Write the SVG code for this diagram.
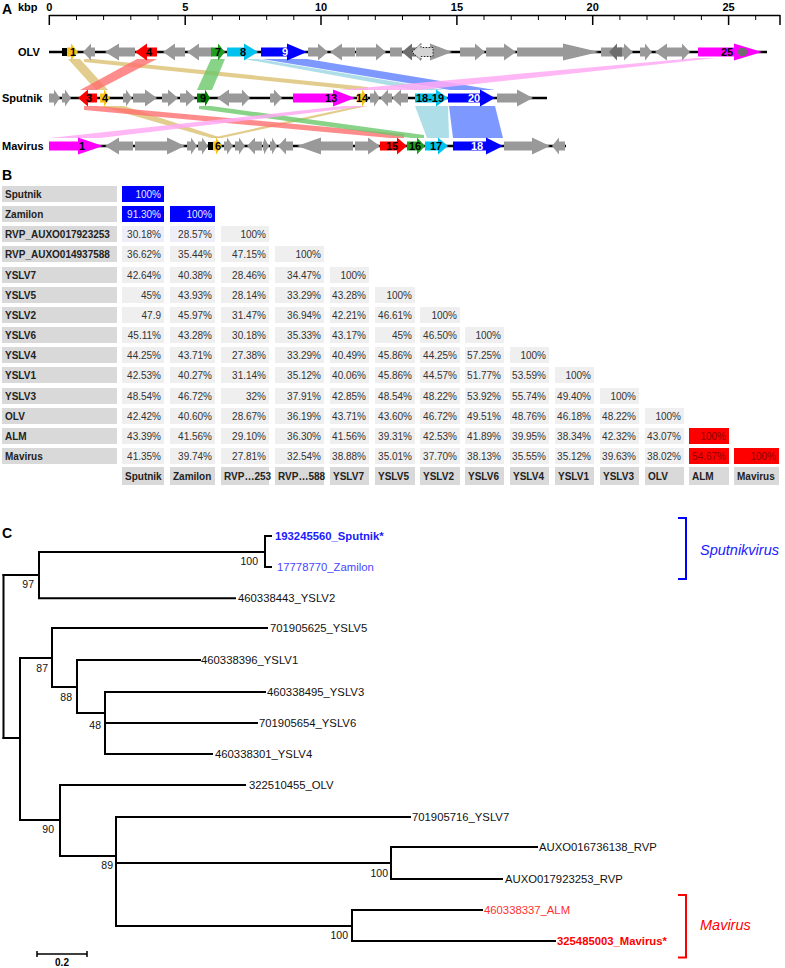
<svg xmlns="http://www.w3.org/2000/svg" width="785" height="968" viewBox="0 0 785 968">
<style>
text{font-family:"Liberation Sans",Arial,sans-serif}
.b{font-weight:bold}
.pl{font-size:14px;font-weight:bold}
.ax{font-size:11px;font-weight:bold;text-anchor:middle}
.rl{font-size:11px;font-weight:bold}
.gn{font-size:11px;font-weight:bold;text-anchor:middle}
.w{fill:#fff}
.g{fill:#999}
.dg{fill:#6e6e6e}
.y{fill:#f7c21a}
.r{fill:#ff0000}
.gr{fill:#1f9e1f}
.dgr{fill:#008000}
.c{fill:#00c2ee}
.bl{fill:#0000ff}
.m{fill:#ff00ff}
.bk{fill:#000}
.gl{stroke:#000;stroke-width:2.5}
.rib-t{fill:#dcc072;opacity:.8}
.rib-r{fill:#ff6f6f;opacity:.8}
.rib-g{fill:#6cc86c;opacity:.8}
.rib-c{fill:#a5dbe5;opacity:.9}
.rib-b{fill:#5c80ff;opacity:.8}
.rib-p{fill:#ffaaf4;opacity:.85}
.cl{fill:#efefef}
.hd{fill:#d9d9d9}
.cb{fill:#0000ff}
.cr{fill:#ff0000}
.tv{font-size:10px;text-anchor:end;fill:#333}
.tl{font-size:10px;font-weight:bold;fill:#222}
.tvb{fill:#e8e8ff}
.tvr{fill:#8b0000}
.tr{stroke:#000;stroke-width:2;fill:none;stroke-linecap:square}
.lf{font-size:11.3px;fill:#111}
.bs{font-size:10.5px;text-anchor:end;fill:#111}
.it{font-size:14.5px;font-style:italic}
</style>

<!-- Panel A -->
<text x="2" y="14" class="pl">A</text>
<text x="18" y="11" class="rl">kbp</text>
<g id="scale">
<path d="M49.3,15.5H780" stroke="#000" stroke-width="1.5"/>
<path d="M49.3,15V25M185.2,15V25M321,15V25M456.9,15V25M592.7,15V25M728.6,15V25M780,15V25" stroke="#000" stroke-width="1.5"/>
<path d="M76.5,15V20M103.6,15V20M130.8,15V20M158,15V20M212.3,15V20M239.5,15V20M266.7,15V20M293.8,15V20M348.2,15V20M375.3,15V20M402.5,15V20M429.7,15V20M484,15V20M511.2,15V20M538.4,15V20M565.5,15V20M619.9,15V20M647,15V20M674.2,15V20M701.4,15V20M755.7,15V20" stroke="#000" stroke-width="1"/>
<text x="49.3" y="11" class="ax">0</text>
<text x="185.2" y="11" class="ax">5</text>
<text x="321" y="11" class="ax">10</text>
<text x="456.9" y="11" class="ax">15</text>
<text x="592.7" y="11" class="ax">20</text>
<text x="728.6" y="11" class="ax">25</text>
</g>

<g id="ribbons">
<polygon class="rib-t" points="68,59 80,59 108,90 96,90"/>
<polygon class="rib-t" points="84,59 93,59 368,87 368,90 356,90 84,62"/>
<polygon class="rib-t" points="100,106 124,106 222,138 211,138"/>
<polygon class="rib-t" points="357,106 367,106 222,138 211,138"/>
<polygon class="rib-r" points="137,59 157,59 97,90 80,90"/>
<polygon class="rib-r" points="84,106 97,106 404,134 404,138 390,138 84,110"/>
<polygon class="rib-g" points="211,59 225,59 212,90 197,90"/>
<polygon class="rib-g" points="199,106 211,106 424,135 424,138 411,138 199,109"/>
<polygon class="rib-c" points="244,59 258,59 445,90 415,90"/>
<polygon class="rib-c" points="415,106 448,106 449,138 427,138"/>
<polygon class="rib-b" points="262,59 307,59 495,90 450,90"/>
<polygon class="rib-b" points="449,106 495,106 503,138 453,138"/>
<polygon class="rib-p" points="696,58 716,58 420,90 338,90"/>
<polygon class="rib-p" points="343,106 368,106 100,138 50,138"/>
</g>

<g id="olv" transform="translate(0,52)">
<path d="M49,0H767" class="gl"/>
<rect x="62" y="-4" width="5" height="8" class="bk"/>
<polygon class="y" points="67,-4.5 71,-4.5 71,-8.5 78,0 71,8.5 71,4.5 67,4.5"/>
<polygon class="g" points="83,0 91,-8.5 91,-4.5 95,-4.5 95,4.5 91,4.5 91,8.5"/>
<polygon class="g" points="105,0 119,-8.5 119,-4.5 135,-4.5 135,4.5 119,4.5 119,8.5"/>
<polygon class="r" points="135,0 147,-8.5 147,-4.5 157,-4.5 157,4.5 147,4.5 147,8.5"/>
<polygon class="g" points="163,0 175,-8.5 175,-4.5 185,-4.5 185,4.5 175,4.5 175,8.5"/>
<polygon class="g" points="187,0 199,-8.5 199,-4.5 212,-4.5 212,4.5 199,4.5 199,8.5"/>
<polygon class="gr" points="211,-4.5 218,-4.5 218,-8.5 225,0 218,8.5 218,4.5 211,4.5"/>
<polygon class="c" points="227,-4.5 244,-4.5 244,-8.5 258,0 244,8.5 244,4.5 227,4.5"/>
<polygon class="bl" points="261,-4.5 287,-4.5 287,-8.5 307,0 287,8.5 287,4.5 261,4.5"/>
<polygon class="g" points="308,-4.5 318,-4.5 318,-8.5 328,0 318,8.5 318,4.5 308,4.5"/>
<polygon class="g" points="330,0 342,-8.5 342,-4.5 355,-4.5 355,4.5 342,4.5 342,8.5"/>
<polygon class="g" points="356,-4.5 376,-4.5 376,-8.5 386,0 376,8.5 376,4.5 356,4.5"/>
<rect x="390" y="-4.5" width="12" height="9" class="g"/>
<polygon class="g" points="423,-4.5 430,-4.5 430,-8.5 452,0 430,8.5 430,4.5 423,4.5"/>
<polygon class="dg" points="402,0 412,-8.5 412,-4.5 418,-4.5 418,4.5 412,4.5 412,8.5"/>
<polygon fill="#d4d4d4" stroke="#000" stroke-width="0.8" stroke-dasharray="1.5,1.5" points="412,0 421,-8.5 421,-4.5 433,-4.5 433,4.5 421,4.5 421,8.5"/>
<polygon class="g" points="460,-4.5 475,-4.5 475,-8.5 485,0 475,8.5 475,4.5 460,4.5"/>
<polygon class="g" points="486,-4.5 504,-4.5 504,-8.5 516,0 504,8.5 504,4.5 486,4.5"/>
<polygon class="g" points="517,-4.5 563,-4.5 563,-8.5 599,0 563,8.5 563,4.5 517,4.5"/>
<rect x="601" y="-4.5" width="12" height="9" class="g"/>
<polygon class="g" points="618,-4.5 624,-4.5 624,-8.5 633,0 624,8.5 624,4.5 618,4.5"/>
<polygon class="dg" points="609,0 617,-8.5 617,-4.5 622,-4.5 622,4.5 617,4.5 617,8.5"/>
<polygon class="g" points="640,-4.5 645,-4.5 645,-8.5 652,0 645,8.5 645,4.5 640,4.5"/>
<polygon class="g" points="655,0 667,-8.5 667,-4.5 677,-4.5 677,4.5 667,4.5 667,8.5"/>
<polygon class="g" points="677,-4.5 682,-4.5 682,-8.5 690,0 682,8.5 682,4.5 677,4.5"/>
<polygon class="m" points="698,-4.5 734,-4.5 734,-8.5 762,0 734,8.5 734,4.5 698,4.5"/>
<polygon class="dg" points="737,0 740,-4 745,-4 748,0 745,4 740,4"/>
<text x="73" y="4" class="gn">1</text>
<text x="149" y="4" class="gn">4</text>
<text x="218" y="4" class="gn">7</text>
<text x="243" y="4" class="gn">8</text>
<text x="285" y="4" class="gn w">9</text>
<text x="727" y="4" class="gn">25</text>
</g>
<text x="18" y="56" class="rl">OLV</text>

<g id="sputnik-genome" transform="translate(0,98)">
<path d="M49,0H547" class="gl"/>
<polygon class="g" points="49,-4.5 54,-4.5 54,-8.5 60,0 54,8.5 54,4.5 49,4.5"/>
<polygon class="g" points="62,-4.5 65,-4.5 65,-8.5 71,0 65,8.5 65,4.5 62,4.5"/>
<polygon class="r" points="78,0 88,-8.5 88,-4.5 97,-4.5 97,4.5 88,4.5 88,8.5"/>
<polygon class="y" points="100,-4.5 104,-4.5 104,-8.5 110,0 104,8.5 104,4.5 100,4.5"/>
<polygon class="g" points="123,-4.5 126,-4.5 126,-8.5 132,0 126,8.5 126,4.5 123,4.5"/>
<polygon class="g" points="133,-4.5 145,-4.5 145,-8.5 157,0 145,8.5 145,4.5 133,4.5"/>
<polygon class="g" points="162,-4.5 168,-4.5 168,-8.5 178,0 168,8.5 168,4.5 162,4.5"/>
<polygon class="g" points="180,-4.5 186,-4.5 186,-8.5 195,0 186,8.5 186,4.5 180,4.5"/>
<polygon class="dgr" points="197,-4.5 205,-4.5 205,-8.5 210,0 205,8.5 205,4.5 197,4.5"/>
<polygon class="g" points="217,0 229,-8.5 229,-4.5 237,-4.5 237,4.5 229,4.5 229,8.5"/>
<polygon class="g" points="237,-4.5 242,-4.5 242,-8.5 250,0 242,8.5 242,4.5 237,4.5"/>
<polygon class="g" points="270,-4.5 274,-4.5 274,-8.5 282,0 274,8.5 274,4.5 270,4.5"/>
<polygon class="m" points="293,-4.5 333,-4.5 333,-8.5 355,0 333,8.5 333,4.5 293,4.5"/>
<polygon class="y" points="357,-4.5 362,-4.5 362,-8.5 368,0 362,8.5 362,4.5 357,4.5"/>
<polygon class="g" points="370,-4.5 374,-4.5 374,-8.5 380,0 374,8.5 374,4.5 370,4.5"/>
<polygon class="g" points="380,0 388,-8.5 388,-4.5 392,-4.5 392,4.5 388,4.5 388,8.5"/>
<polygon class="g" points="392,0 401,-8.5 401,-4.5 408,-4.5 408,4.5 401,4.5 401,8.5"/>
<polygon class="c" points="415,-4.5 436,-4.5 436,-8.5 448,0 436,8.5 436,4.5 415,4.5"/>
<polygon class="bl" points="448,-4.5 480,-4.5 480,-8.5 495,0 480,8.5 480,4.5 448,4.5"/>
<polygon class="g" points="497,-4.5 517,-4.5 517,-8.5 533,0 517,8.5 517,4.5 497,4.5"/>
<text x="89" y="4" class="gn">3</text>
<text x="105" y="4" class="gn">4</text>
<text x="203" y="4" class="gn">9</text>
<text x="331" y="4" class="gn">13</text>
<text x="362" y="4" class="gn">14</text>
<text x="430" y="4" class="gn">18-19</text>
<text x="474" y="4" class="gn w">20</text>
</g>
<text x="2" y="102" class="rl">Sputnik</text>

<g id="mavirus-genome" transform="translate(0,146)">
<path d="M49,0H566" class="gl"/>
<polygon class="m" points="49,-4.5 78,-4.5 78,-8.5 103,0 78,8.5 78,4.5 49,4.5"/>
<polygon class="g" points="105,0 119,-8.5 119,-4.5 133,-4.5 133,4.5 119,4.5 119,8.5"/>
<polygon class="g" points="135,-4.5 167,-4.5 167,-8.5 185,0 167,8.5 167,4.5 135,4.5"/>
<polygon class="g" points="187,-4.5 191,-4.5 191,-8.5 197,0 191,8.5 191,4.5 187,4.5"/>
<polygon class="g" points="198,-4.5 202,-4.5 202,-8.5 208,0 202,8.5 202,4.5 198,4.5"/>
<rect x="208" y="-4" width="5" height="8" class="bk"/>
<polygon class="y" points="213,-4.5 216,-4.5 216,-8.5 222,0 216,8.5 216,4.5 213,4.5"/>
<polygon class="g" points="224,-4.5 227,-4.5 227,-8.5 233,0 227,8.5 227,4.5 224,4.5"/>
<polygon class="g" points="235,-4.5 239,-4.5 239,-8.5 245,0 239,8.5 239,4.5 235,4.5"/>
<polygon class="g" points="247,0 255,-8.5 255,-4.5 262,-4.5 262,4.5 255,4.5 255,8.5"/>
<polygon class="g" points="263,-4.5 264,-4.5 264,-8.5 269,0 264,8.5 264,4.5 263,4.5"/>
<polygon class="g" points="270,-4.5 272,-4.5 272,-8.5 277,0 272,8.5 272,4.5 270,4.5"/>
<polygon class="g" points="278,0 286,-8.5 286,-4.5 293,-4.5 293,4.5 286,4.5 286,8.5"/>
<polygon class="g" points="297,0 321,-8.5 321,-4.5 353,-4.5 353,4.5 321,4.5 321,8.5"/>
<polygon class="g" points="355,-4.5 368,-4.5 368,-8.5 380,0 368,8.5 368,4.5 355,4.5"/>
<polygon class="r" points="380,-4.5 397,-4.5 397,-8.5 407,0 397,8.5 397,4.5 380,4.5"/>
<polygon class="gr" points="407,-4.5 417,-4.5 417,-8.5 425,0 417,8.5 417,4.5 407,4.5"/>
<polygon class="c" points="425,-4.5 438,-4.5 438,-8.5 448,0 438,8.5 438,4.5 425,4.5"/>
<polygon class="bl" points="453,-4.5 486,-4.5 486,-8.5 503,0 486,8.5 486,4.5 453,4.5"/>
<polygon class="g" points="504,-4.5 532,-4.5 532,-8.5 550,0 532,8.5 532,4.5 504,4.5"/>
<polygon class="g" points="552,0 559,-8.5 559,-4.5 565,-4.5 565,4.5 559,4.5 559,8.5"/>
<text x="82" y="4" class="gn">1</text>
<text x="218" y="4" class="gn">6</text>
<text x="392" y="4" class="gn">15</text>
<text x="415" y="4" class="gn">16</text>
<text x="436" y="4" class="gn">17</text>
<text x="477" y="4" class="gn w">18</text>
</g>
<text x="2" y="150" class="rl">Mavirus</text>

<!-- Panel B -->
<text x="2" y="180" class="pl">B</text>
<g id="table">
<g transform="translate(0,186)">
<rect x="2" y="0" width="115" height="16" class="hd"/><text x="5" y="12" class="tl">Sputnik</text>
<rect x="122" y="0" width="42" height="16" class="cb"/><text x="161" y="12" class="tv tvb">100%</text>
</g>
<g transform="translate(0,206)">
<rect x="2" y="0" width="115" height="16" class="hd"/><text x="5" y="12" class="tl">Zamilon</text>
<rect x="122" y="0" width="42" height="16" class="cb"/><text x="161" y="12" class="tv tvb">91.30%</text>
<rect x="170" y="0" width="45" height="16" class="cb"/><text x="212" y="12" class="tv tvb">100%</text>
</g>
<g transform="translate(0,226)">
<rect x="2" y="0" width="115" height="16" class="hd"/><text x="5" y="12" class="tl">RVP_AUXO017923253</text>
<rect x="122" y="0" width="42" height="16" fill="#eeeef8"/><text x="161" y="12" class="tv">30.18%</text>
<rect x="170" y="0" width="45" height="16" fill="#eeeef8"/><text x="212" y="12" class="tv">28.57%</text>
<rect x="221" y="0" width="48" height="16" class="cl"/><text x="266" y="12" class="tv">100%</text>
</g>
<g transform="translate(0,246)">
<rect x="2" y="0" width="115" height="16" class="hd"/><text x="5" y="12" class="tl">RVP_AUXO014937588</text>
<rect x="122" y="0" width="42" height="16" class="cl"/><text x="161" y="12" class="tv">36.62%</text>
<rect x="170" y="0" width="45" height="16" class="cl"/><text x="212" y="12" class="tv">35.44%</text>
<rect x="221" y="0" width="48" height="16" class="cl"/><text x="266" y="12" class="tv">47.15%</text>
<rect x="275" y="0" width="49" height="16" class="cl"/><text x="321" y="12" class="tv">100%</text>
</g>
<g transform="translate(0,267)">
<rect x="2" y="0" width="115" height="16" class="hd"/><text x="5" y="12" class="tl">YSLV7</text>
<rect x="122" y="0" width="42" height="16" class="cl"/><text x="161" y="12" class="tv">42.64%</text>
<rect x="170" y="0" width="45" height="16" class="cl"/><text x="212" y="12" class="tv">40.38%</text>
<rect x="221" y="0" width="48" height="16" class="cl"/><text x="266" y="12" class="tv">28.46%</text>
<rect x="275" y="0" width="49" height="16" class="cl"/><text x="321" y="12" class="tv">34.47%</text>
<rect x="330" y="0" width="39" height="16" class="cl"/><text x="366" y="12" class="tv">100%</text>
</g>
<g transform="translate(0,287)">
<rect x="2" y="0" width="115" height="16" class="hd"/><text x="5" y="12" class="tl">YSLV5</text>
<rect x="122" y="0" width="42" height="16" class="cl"/><text x="161" y="12" class="tv">45%</text>
<rect x="170" y="0" width="45" height="16" class="cl"/><text x="212" y="12" class="tv">43.93%</text>
<rect x="221" y="0" width="48" height="16" class="cl"/><text x="266" y="12" class="tv">28.14%</text>
<rect x="275" y="0" width="49" height="16" class="cl"/><text x="321" y="12" class="tv">33.29%</text>
<rect x="330" y="0" width="39" height="16" class="cl"/><text x="366" y="12" class="tv">43.28%</text>
<rect x="375" y="0" width="40" height="16" class="cl"/><text x="412" y="12" class="tv">100%</text>
</g>
<g transform="translate(0,307)">
<rect x="2" y="0" width="115" height="16" class="hd"/><text x="5" y="12" class="tl">YSLV2</text>
<rect x="122" y="0" width="42" height="16" class="cl"/><text x="161" y="12" class="tv">47.9</text>
<rect x="170" y="0" width="45" height="16" class="cl"/><text x="212" y="12" class="tv">45.97%</text>
<rect x="221" y="0" width="48" height="16" class="cl"/><text x="266" y="12" class="tv">31.47%</text>
<rect x="275" y="0" width="49" height="16" class="cl"/><text x="321" y="12" class="tv">36.94%</text>
<rect x="330" y="0" width="39" height="16" class="cl"/><text x="366" y="12" class="tv">42.21%</text>
<rect x="375" y="0" width="40" height="16" class="cl"/><text x="412" y="12" class="tv">46.61%</text>
<rect x="420" y="0" width="40" height="16" class="cl"/><text x="457" y="12" class="tv">100%</text>
</g>
<g transform="translate(0,327)">
<rect x="2" y="0" width="115" height="16" class="hd"/><text x="5" y="12" class="tl">YSLV6</text>
<rect x="122" y="0" width="42" height="16" class="cl"/><text x="161" y="12" class="tv">45.11%</text>
<rect x="170" y="0" width="45" height="16" class="cl"/><text x="212" y="12" class="tv">43.28%</text>
<rect x="221" y="0" width="48" height="16" class="cl"/><text x="266" y="12" class="tv">30.18%</text>
<rect x="275" y="0" width="49" height="16" class="cl"/><text x="321" y="12" class="tv">35.33%</text>
<rect x="330" y="0" width="39" height="16" class="cl"/><text x="366" y="12" class="tv">43.17%</text>
<rect x="375" y="0" width="40" height="16" class="cl"/><text x="412" y="12" class="tv">45%</text>
<rect x="420" y="0" width="40" height="16" class="cl"/><text x="457" y="12" class="tv">46.50%</text>
<rect x="465" y="0" width="39" height="16" class="cl"/><text x="501" y="12" class="tv">100%</text>
</g>
<g transform="translate(0,347)">
<rect x="2" y="0" width="115" height="16" class="hd"/><text x="5" y="12" class="tl">YSLV4</text>
<rect x="122" y="0" width="42" height="16" class="cl"/><text x="161" y="12" class="tv">44.25%</text>
<rect x="170" y="0" width="45" height="16" class="cl"/><text x="212" y="12" class="tv">43.71%</text>
<rect x="221" y="0" width="48" height="16" class="cl"/><text x="266" y="12" class="tv">27.38%</text>
<rect x="275" y="0" width="49" height="16" class="cl"/><text x="321" y="12" class="tv">33.29%</text>
<rect x="330" y="0" width="39" height="16" class="cl"/><text x="366" y="12" class="tv">40.49%</text>
<rect x="375" y="0" width="40" height="16" class="cl"/><text x="412" y="12" class="tv">45.86%</text>
<rect x="420" y="0" width="40" height="16" class="cl"/><text x="457" y="12" class="tv">44.25%</text>
<rect x="465" y="0" width="39" height="16" class="cl"/><text x="501" y="12" class="tv">57.25%</text>
<rect x="510" y="0" width="39" height="16" class="cl"/><text x="546" y="12" class="tv">100%</text>
</g>
<g transform="translate(0,367)">
<rect x="2" y="0" width="115" height="16" class="hd"/><text x="5" y="12" class="tl">YSLV1</text>
<rect x="122" y="0" width="42" height="16" class="cl"/><text x="161" y="12" class="tv">42.53%</text>
<rect x="170" y="0" width="45" height="16" class="cl"/><text x="212" y="12" class="tv">40.27%</text>
<rect x="221" y="0" width="48" height="16" class="cl"/><text x="266" y="12" class="tv">31.14%</text>
<rect x="275" y="0" width="49" height="16" class="cl"/><text x="321" y="12" class="tv">35.12%</text>
<rect x="330" y="0" width="39" height="16" class="cl"/><text x="366" y="12" class="tv">40.06%</text>
<rect x="375" y="0" width="40" height="16" class="cl"/><text x="412" y="12" class="tv">45.86%</text>
<rect x="420" y="0" width="40" height="16" class="cl"/><text x="457" y="12" class="tv">44.57%</text>
<rect x="465" y="0" width="39" height="16" class="cl"/><text x="501" y="12" class="tv">51.77%</text>
<rect x="510" y="0" width="39" height="16" class="cl"/><text x="546" y="12" class="tv">53.59%</text>
<rect x="555" y="0" width="39" height="16" class="cl"/><text x="591" y="12" class="tv">100%</text>
</g>
<g transform="translate(0,388)">
<rect x="2" y="0" width="115" height="16" class="hd"/><text x="5" y="12" class="tl">YSLV3</text>
<rect x="122" y="0" width="42" height="16" class="cl"/><text x="161" y="12" class="tv">48.54%</text>
<rect x="170" y="0" width="45" height="16" class="cl"/><text x="212" y="12" class="tv">46.72%</text>
<rect x="221" y="0" width="48" height="16" class="cl"/><text x="266" y="12" class="tv">32%</text>
<rect x="275" y="0" width="49" height="16" class="cl"/><text x="321" y="12" class="tv">37.91%</text>
<rect x="330" y="0" width="39" height="16" class="cl"/><text x="366" y="12" class="tv">42.85%</text>
<rect x="375" y="0" width="40" height="16" class="cl"/><text x="412" y="12" class="tv">48.54%</text>
<rect x="420" y="0" width="40" height="16" class="cl"/><text x="457" y="12" class="tv">48.22%</text>
<rect x="465" y="0" width="39" height="16" class="cl"/><text x="501" y="12" class="tv">53.92%</text>
<rect x="510" y="0" width="39" height="16" class="cl"/><text x="546" y="12" class="tv">55.74%</text>
<rect x="555" y="0" width="39" height="16" class="cl"/><text x="591" y="12" class="tv">49.40%</text>
<rect x="600" y="0" width="39" height="16" class="cl"/><text x="636" y="12" class="tv">100%</text>
</g>
<g transform="translate(0,408)">
<rect x="2" y="0" width="115" height="16" class="hd"/><text x="5" y="12" class="tl">OLV</text>
<rect x="122" y="0" width="42" height="16" class="cl"/><text x="161" y="12" class="tv">42.42%</text>
<rect x="170" y="0" width="45" height="16" class="cl"/><text x="212" y="12" class="tv">40.60%</text>
<rect x="221" y="0" width="48" height="16" class="cl"/><text x="266" y="12" class="tv">28.67%</text>
<rect x="275" y="0" width="49" height="16" class="cl"/><text x="321" y="12" class="tv">36.19%</text>
<rect x="330" y="0" width="39" height="16" class="cl"/><text x="366" y="12" class="tv">43.71%</text>
<rect x="375" y="0" width="40" height="16" class="cl"/><text x="412" y="12" class="tv">43.60%</text>
<rect x="420" y="0" width="40" height="16" class="cl"/><text x="457" y="12" class="tv">46.72%</text>
<rect x="465" y="0" width="39" height="16" class="cl"/><text x="501" y="12" class="tv">49.51%</text>
<rect x="510" y="0" width="39" height="16" class="cl"/><text x="546" y="12" class="tv">48.76%</text>
<rect x="555" y="0" width="39" height="16" class="cl"/><text x="591" y="12" class="tv">46.18%</text>
<rect x="600" y="0" width="39" height="16" class="cl"/><text x="636" y="12" class="tv">48.22%</text>
<rect x="645" y="0" width="39" height="16" class="cl"/><text x="681" y="12" class="tv">100%</text>
</g>
<g transform="translate(0,428)">
<rect x="2" y="0" width="115" height="16" class="hd"/><text x="5" y="12" class="tl">ALM</text>
<rect x="122" y="0" width="42" height="16" class="cl"/><text x="161" y="12" class="tv">43.39%</text>
<rect x="170" y="0" width="45" height="16" class="cl"/><text x="212" y="12" class="tv">41.56%</text>
<rect x="221" y="0" width="48" height="16" class="cl"/><text x="266" y="12" class="tv">29.10%</text>
<rect x="275" y="0" width="49" height="16" class="cl"/><text x="321" y="12" class="tv">36.30%</text>
<rect x="330" y="0" width="39" height="16" class="cl"/><text x="366" y="12" class="tv">41.56%</text>
<rect x="375" y="0" width="40" height="16" class="cl"/><text x="412" y="12" class="tv">39.31%</text>
<rect x="420" y="0" width="40" height="16" class="cl"/><text x="457" y="12" class="tv">42.53%</text>
<rect x="465" y="0" width="39" height="16" class="cl"/><text x="501" y="12" class="tv">41.89%</text>
<rect x="510" y="0" width="39" height="16" class="cl"/><text x="546" y="12" class="tv">39.95%</text>
<rect x="555" y="0" width="39" height="16" class="cl"/><text x="591" y="12" class="tv">38.34%</text>
<rect x="600" y="0" width="39" height="16" class="cl"/><text x="636" y="12" class="tv">42.32%</text>
<rect x="645" y="0" width="39" height="16" class="cl"/><text x="681" y="12" class="tv">43.07%</text>
<rect x="689" y="0" width="40" height="16" class="cr"/><text x="726" y="12" class="tv tvr">100%</text>
</g>
<g transform="translate(0,448)">
<rect x="2" y="0" width="115" height="16" class="hd"/><text x="5" y="12" class="tl">Mavirus</text>
<rect x="122" y="0" width="42" height="16" class="cl"/><text x="161" y="12" class="tv">41.35%</text>
<rect x="170" y="0" width="45" height="16" class="cl"/><text x="212" y="12" class="tv">39.74%</text>
<rect x="221" y="0" width="48" height="16" class="cl"/><text x="266" y="12" class="tv">27.81%</text>
<rect x="275" y="0" width="49" height="16" class="cl"/><text x="321" y="12" class="tv">32.54%</text>
<rect x="330" y="0" width="39" height="16" class="cl"/><text x="366" y="12" class="tv">38.88%</text>
<rect x="375" y="0" width="40" height="16" class="cl"/><text x="412" y="12" class="tv">35.01%</text>
<rect x="420" y="0" width="40" height="16" class="cl"/><text x="457" y="12" class="tv">37.70%</text>
<rect x="465" y="0" width="39" height="16" class="cl"/><text x="501" y="12" class="tv">38.13%</text>
<rect x="510" y="0" width="39" height="16" class="cl"/><text x="546" y="12" class="tv">35.55%</text>
<rect x="555" y="0" width="39" height="16" class="cl"/><text x="591" y="12" class="tv">35.12%</text>
<rect x="600" y="0" width="39" height="16" class="cl"/><text x="636" y="12" class="tv">39.63%</text>
<rect x="645" y="0" width="39" height="16" class="cl"/><text x="681" y="12" class="tv">38.02%</text>
<rect x="689" y="0" width="40" height="16" class="cr"/><text x="726" y="12" class="tv tvr">54.67%</text>
<rect x="734" y="0" width="45" height="16" class="cr"/><text x="776" y="12" class="tv tvr">100%</text>
</g>
<g transform="translate(0,467)">
<rect x="122" y="0" width="42" height="18" class="hd"/><text x="125" y="13" class="tl">Sputnik</text>
<rect x="170" y="0" width="45" height="18" class="hd"/><text x="173" y="13" class="tl">Zamilon</text>
<rect x="221" y="0" width="48" height="18" class="hd"/><text x="224" y="13" class="tl">RVP…253</text>
<rect x="275" y="0" width="49" height="18" class="hd"/><text x="278" y="13" class="tl">RVP…588</text>
<rect x="330" y="0" width="39" height="18" class="hd"/><text x="333" y="13" class="tl">YSLV7</text>
<rect x="375" y="0" width="40" height="18" class="hd"/><text x="378" y="13" class="tl">YSLV5</text>
<rect x="420" y="0" width="40" height="18" class="hd"/><text x="423" y="13" class="tl">YSLV2</text>
<rect x="465" y="0" width="39" height="18" class="hd"/><text x="468" y="13" class="tl">YSLV6</text>
<rect x="510" y="0" width="39" height="18" class="hd"/><text x="513" y="13" class="tl">YSLV4</text>
<rect x="555" y="0" width="39" height="18" class="hd"/><text x="558" y="13" class="tl">YSLV1</text>
<rect x="600" y="0" width="39" height="18" class="hd"/><text x="603" y="13" class="tl">YSLV3</text>
<rect x="645" y="0" width="39" height="18" class="hd"/><text x="648" y="13" class="tl">OLV</text>
<rect x="689" y="0" width="40" height="18" class="hd"/><text x="692" y="13" class="tl">ALM</text>
<rect x="734" y="0" width="45" height="18" class="hd"/><text x="737" y="13" class="tl">Mavirus</text>
</g>
</g>

<!-- Panel C -->
<text x="2" y="538" class="pl">C</text>
<g id="tree-edges" class="tr">
<path d="M3.5,575V738"/>
<path d="M3.5,575H39M39,552V598.3M39,552H265M265,536V567M265,536H271M265,567H271M39,598.3H235"/>
<path d="M3.5,738H20M20,658V820"/>
<path d="M20,658H52M52,628V687M52,628H267M52,687H77M77,660V713M77,660H200M77,713H105M105,692V754M105,692H265M105,723H257M105,754H212"/>
<path d="M20,820H60M60,785V856M60,785H245M60,856H116M116,817V926M116,817H410"/>
<path d="M116,863H391M391,847V879M391,847H537M391,879H502"/>
<path d="M116,926H352M352,910V941M352,910H482M352,941H555"/>
</g>
<g id="bootstrap">
<text x="258" y="565" class="bs">100</text>
<text x="34" y="588" class="bs">97</text>
<text x="48" y="672" class="bs">87</text>
<text x="72" y="701" class="bs">88</text>
<text x="101" y="729" class="bs">48</text>
<text x="54" y="833" class="bs">90</text>
<text x="113" y="869" class="bs">89</text>
<text x="388" y="877" class="bs">100</text>
<text x="348" y="939" class="bs">100</text>
</g>
<g id="leaf-sputnik"><text x="275" y="540" class="lf b" style="fill:#1a1aff">193245560_Sputnik*</text></g>
<g id="leaf-zamilon"><text x="277" y="571" class="lf" style="fill:#4646ff">17778770_Zamilon</text></g>
<g id="leaf-yslv2"><text x="238" y="602" class="lf">460338443_YSLV2</text></g>
<g id="leaf-yslv5"><text x="270" y="632" class="lf">701905625_YSLV5</text></g>
<g id="leaf-yslv1"><text x="201" y="664" class="lf">460338396_YSLV1</text></g>
<g id="leaf-yslv3"><text x="267" y="696" class="lf">460338495_YSLV3</text></g>
<g id="leaf-yslv6"><text x="259" y="727" class="lf">701905654_YSLV6</text></g>
<g id="leaf-yslv4"><text x="215" y="758" class="lf">460338301_YSLV4</text></g>
<g id="leaf-olv"><text x="249" y="789" class="lf">322510455_OLV</text></g>
<g id="leaf-yslv7"><text x="412" y="821" class="lf">701905716_YSLV7</text></g>
<g id="leaf-rvp1"><text x="539" y="851" class="lf">AUXO016736138_RVP</text></g>
<g id="leaf-rvp2"><text x="505" y="883" class="lf">AUXO017923253_RVP</text></g>
<g id="leaf-alm"><text x="484" y="914" class="lf" style="fill:#ff3030">460338337_ALM</text></g>
<g id="leaf-mavirus"><text x="557" y="945" class="lf b" style="fill:#ff0000">325485003_Mavirus*</text></g>

<g id="clade-sputnikvirus">
<path d="M678,518H686V579H678" stroke="#0000ff" stroke-width="2" fill="none"/>
<text x="700" y="555" class="it" fill="#1a1aff">Sputnikvirus</text>
</g>
<g id="clade-mavirus">
<path d="M678,895H686V957.5H678" stroke="#ff0000" stroke-width="2" fill="none"/>
<text x="700" y="930" class="it" fill="#ff0000">Mavirus</text>
</g>
<g id="scalebar">
<path d="M37,954H87M37,951V957M87,951V957" stroke="#000" stroke-width="1.5"/>
<text x="62" y="966" font-size="10" font-weight="bold" text-anchor="middle">0.2</text>
</g>
</svg>
